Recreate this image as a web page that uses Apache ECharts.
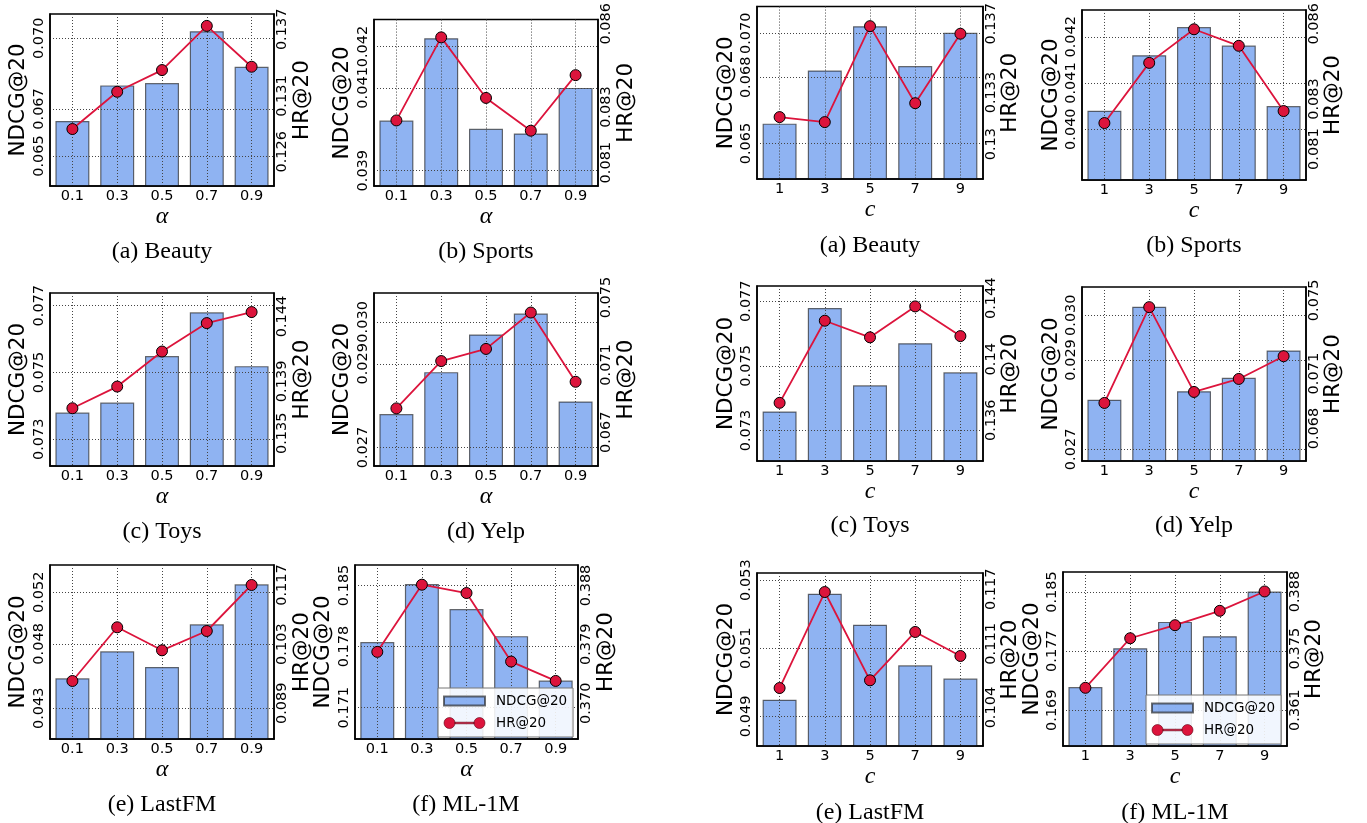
<!DOCTYPE html>
<html><head><meta charset="utf-8">
<script src="https://cdn.jsdelivr.net/npm/echarts@6/dist/echarts.min.js"></script>
<style>html,body{margin:0;padding:0;background:#fff}#c{width:1367px;height:823px}</style>
</head><body><div id="c"></div>
<script>
// ---------- categories ----------
const alphaCategories = ['0.1', '0.3', '0.5', '0.7', '0.9'];
const cCategories = ['1', '3', '5', '7', '9'];

// ---------- alpha sweep ----------
const beautyAlphaNdcg = [0.06649, 0.06800, 0.06810, 0.07030, 0.06879];
const beautyAlphaHr   = [0.12804, 0.13139, 0.13334, 0.13731, 0.13364];
const beautyAlphaNdcgTicks = ['0.065', '0.067', '0.070'];
const beautyAlphaHrTicks   = ['0.126', '0.131', '0.137'];

const sportsAlphaNdcg = [0.04021, 0.04220, 0.04001, 0.03990, 0.04100];
const sportsAlphaHr   = [0.08252, 0.08551, 0.08333, 0.08215, 0.08415];
const sportsAlphaNdcgTicks = ['0.039', '0.041', '0.042'];
const sportsAlphaHrTicks   = ['0.081', '0.083', '0.086'];

const toysAlphaNdcg = [0.07380, 0.07410, 0.07549, 0.07680, 0.07519];
const toysAlphaHr   = [0.13693, 0.13860, 0.14130, 0.14349, 0.14434];
const toysAlphaNdcgTicks = ['0.073', '0.075', '0.077'];
const toysAlphaHrTicks   = ['0.135', '0.139', '0.144'];

const yelpAlphaNdcg = [0.02780, 0.02880, 0.02970, 0.03020, 0.02810];
const yelpAlphaHr   = [0.06842, 0.07123, 0.07195, 0.07411, 0.07000];
const yelpAlphaNdcgTicks = ['0.027', '0.029', '0.030'];
const yelpAlphaHrTicks   = ['0.067', '0.071', '0.075'];

const lastfmAlphaNdcg = [0.04533, 0.04742, 0.04621, 0.04952, 0.05262];
const lastfmAlphaHr   = [0.09428, 0.10699, 0.10154, 0.10611, 0.11700];
const lastfmAlphaNdcgTicks = ['0.043', '0.048', '0.052'];
const lastfmAlphaHrTicks   = ['0.089', '0.103', '0.117'];

const ml1mAlphaNdcg = [0.17851, 0.18516, 0.18229, 0.17919, 0.17410];
const ml1mAlphaHr   = [0.37785, 0.38811, 0.38684, 0.37637, 0.37341];
const ml1mAlphaNdcgTicks = ['0.171', '0.178', '0.185'];
const ml1mAlphaHrTicks   = ['0.370', '0.379', '0.388'];

// ---------- c sweep ----------
const beautyCNdcg = [0.06590, 0.06831, 0.07032, 0.06851, 0.07002];
const beautyCHr   = [0.13157, 0.13128, 0.13686, 0.13238, 0.13642];
const beautyCNdcgTicks = ['0.065', '0.068', '0.070'];
const beautyCHrTicks   = ['0.13', '0.133', '0.137'];

const sportsCNdcg = [0.04040, 0.04160, 0.04221, 0.04181, 0.04050];
const sportsCHr   = [0.08204, 0.08444, 0.08578, 0.08512, 0.08252];
const sportsCNdcgTicks = ['0.040', '0.041', '0.042'];
const sportsCHrTicks   = ['0.081', '0.083', '0.086'];

const toysCNdcg = [0.07359, 0.07679, 0.07440, 0.07570, 0.07480];
const toysCHr   = [0.13714, 0.14253, 0.14144, 0.14347, 0.14152];
const toysCNdcgTicks = ['0.073', '0.075', '0.077'];
const toysCHrTicks   = ['0.136', '0.14', '0.144'];

const yelpCNdcg = [0.02811, 0.03019, 0.02830, 0.02860, 0.02921];
const yelpCHr   = [0.06940, 0.07463, 0.07000, 0.07071, 0.07195];
const yelpCNdcgTicks = ['0.027', '0.029', '0.030'];
const yelpCHrTicks   = ['0.068', '0.071', '0.075'];

const lastfmCNdcg = [0.04949, 0.05260, 0.05169, 0.05050, 0.05011];
const lastfmCHr   = [0.10615, 0.11670, 0.10700, 0.11231, 0.10967];
const lastfmCNdcgTicks = ['0.049', '0.051', '0.053'];
const lastfmCHrTicks   = ['0.104', '0.111', '0.117'];

const ml1mCNdcg = [0.17213, 0.17739, 0.18096, 0.17902, 0.18508];
const ml1mCHr   = [0.36609, 0.37736, 0.38033, 0.38360, 0.38800];
const ml1mCNdcgTicks = ['0.169', '0.177', '0.185'];
const ml1mCHrTicks   = ['0.361', '0.375', '0.388'];

// ---------- panel layout (positions / axis ranges) ----------
const panels = [
  {cats: alphaCategories, xName: 'α', ndcg: beautyAlphaNdcg, hr: beautyAlphaHr, lt: beautyAlphaNdcgTicks, rt: beautyAlphaHrTicks,
   lr: [0.06373, 0.07103], rr: [0.12292, 0.13838], box: [50, 14, 224, 172], caption: '(a) Beauty', cap: [162, 252], g: 'a'},
  {cats: alphaCategories, xName: 'α', ndcg: sportsAlphaNdcg, hr: sportsAlphaHr, lt: sportsAlphaNdcgTicks, rt: sportsAlphaHrTicks,
   lr: [0.03863, 0.04265], rr: [0.08016, 0.08615], box: [374, 14, 224, 172], caption: '(b) Sports', cap: [486, 252], g: 'a'},
  {cats: cCategories, xName: 'c', ndcg: beautyCNdcg, hr: beautyCHr, lt: beautyCNdcgTicks, rt: beautyCHrTicks,
   lr: [0.06339, 0.07121], rr: [0.12797, 0.13800], box: [757, 6, 226, 173], caption: '(a) Beauty', cap: [870, 246], g: 'c'},
  {cats: cCategories, xName: 'c', ndcg: sportsCNdcg, hr: sportsCHr, lt: sportsCNdcgTicks, rt: sportsCHrTicks,
   lr: [0.03890, 0.04258], rr: [0.07977, 0.08655], box: [1082, 6, 224, 174], caption: '(b) Sports', cap: [1194, 246], g: 'c'},

  {cats: alphaCategories, xName: 'α', ndcg: toysAlphaNdcg, hr: toysAlphaHr, lt: toysAlphaNdcgTicks, rt: toysAlphaHrTicks,
   lr: [0.07220, 0.07738], rr: [0.13248, 0.14581], box: [50, 293, 224, 173], caption: '(c) Toys', cap: [162, 532], g: 'a'},
  {cats: alphaCategories, xName: 'α', ndcg: yelpAlphaNdcg, hr: yelpAlphaHr, lt: yelpAlphaNdcgTicks, rt: yelpAlphaHrTicks,
   lr: [0.02656, 0.03069], rr: [0.06500, 0.07527], box: [374, 293, 224, 173], caption: '(d) Yelp', cap: [486, 532], g: 'a'},
  {cats: cCategories, xName: 'c', ndcg: toysCNdcg, hr: toysCHr, lt: toysCNdcgTicks, rt: toysCHrTicks,
   lr: [0.07206, 0.07747], rr: [0.13332, 0.14481], box: [757, 286, 226, 175], caption: '(c) Toys', cap: [870, 526], g: 'c'},
  {cats: cCategories, xName: 'c', ndcg: yelpCNdcg, hr: yelpCHr, lt: yelpCNdcgTicks, rt: yelpCHrTicks,
   lr: [0.02674, 0.03063], rr: [0.06623, 0.07573], box: [1082, 287, 224, 174], caption: '(d) Yelp', cap: [1194, 526], g: 'c'},

  {cats: alphaCategories, xName: 'α', ndcg: lastfmAlphaNdcg, hr: lastfmAlphaHr, lt: lastfmAlphaNdcgTicks, rt: lastfmAlphaHrTicks,
   lr: [0.04062, 0.05412], rr: [0.08055, 0.12173], box: [50, 565, 224, 174], caption: '(e) LastFM', cap: [162, 805], g: 'a'},
  {cats: alphaCategories, xName: 'α', ndcg: ml1mAlphaNdcg, hr: ml1mAlphaHr, lt: ml1mAlphaNdcgTicks, rt: ml1mAlphaHrTicks,
   lr: [0.16741, 0.18734], rr: [0.36454, 0.39112], box: [355, 565, 223, 174], caption: '(f) ML-1M', cap: [466, 805], g: 'a'},
  {cats: cCategories, xName: 'c', ndcg: lastfmCNdcg, hr: lastfmCHr, lt: lastfmCNdcgTicks, rt: lastfmCHrTicks,
   lr: [0.04813, 0.05321], rr: [0.09978, 0.11879], box: [757, 573, 226, 173], caption: '(e) LastFM', cap: [870, 813], g: 'c'},
  {cats: cCategories, xName: 'c', ndcg: ml1mCNdcg, hr: ml1mCHr, lt: ml1mCNdcgTicks, rt: ml1mCHrTicks,
   lr: [0.16415, 0.18772], rr: [0.35285, 0.39243], box: [1063, 572, 224, 174], caption: '(f) ML-1M', cap: [1175, 813], g: 'c'}
];

const SANS = 'DejaVu Sans';
const SERIF = 'Liberation Serif';
const BAR_FILL = 'rgba(100,149,237,0.72)';
const BAR_EDGE = 'rgba(30,30,30,0.65)';
const LINE_COLOR = '#dc143c';
const GRID_LINE = {color: '#444', type: [1, 2], width: 1};

function labelFmt(labels) {
  return function (v) {
    for (const l of labels) { if (Math.abs(Number(l) - v) < 1e-9) return l; }
    return '';
  };
}

const option = {animation: false, backgroundColor: '#fff', grid: [], xAxis: [], yAxis: [], series: [], title: [], legend: []};

panels.forEach((p, i) => {
  option.grid.push({left: p.box[0], top: p.box[1], width: p.box[2], height: p.box[3],
    show: true, borderColor: '#000', borderWidth: 1.5, backgroundColor: 'transparent', containLabel: false});
  option.xAxis.push({type: 'category', gridIndex: i, data: p.cats, boundaryGap: true, z: 3,
    name: p.xName, nameLocation: 'middle', nameGap: 17,
    nameTextStyle: {fontFamily: SERIF, fontStyle: 'italic', fontSize: 24, color: '#000'},
    axisLine: {show: true, lineStyle: {color: '#000', width: 1.5}}, axisTick: {show: false},
    axisLabel: {fontFamily: SANS, fontSize: 14.5, color: '#000', margin: 3},
    splitLine: {show: true, alignWithLabel: true, lineStyle: GRID_LINE}});
  const lv = p.lt.map(Number), rv = p.rt.map(Number);
  option.yAxis.push({type: 'value', gridIndex: i, position: 'left', min: p.lr[0], max: p.lr[1], z: 3,
    name: 'NDCG@20', nameLocation: 'middle', nameRotate: 90, nameGap: p.g === 'a' ? 21 : 20,
    nameTextStyle: {fontFamily: SANS, fontSize: 21.5, color: '#000'},
    axisLine: {show: true, lineStyle: {color: '#000', width: 1.5}},
    axisTick: {show: false, customValues: lv},
    axisLabel: {rotate: 90, customValues: lv, formatter: labelFmt(p.lt), fontFamily: SANS, fontSize: 14.5, color: '#000', margin: 3},
    splitLine: {show: true, lineStyle: GRID_LINE}});
  option.yAxis.push({type: 'value', gridIndex: i, position: 'right', min: p.rr[0], max: p.rr[1], z: 3,
    name: 'HR@20', nameLocation: 'middle', nameRotate: 90, nameGap: p.g === 'a' ? 17.5 : 14.5,
    nameTextStyle: {fontFamily: SANS, fontSize: 21.5, color: '#000'},
    axisLine: {show: true, lineStyle: {color: '#000', width: 1.5}},
    axisTick: {show: false, customValues: rv},
    axisLabel: {rotate: 90, customValues: rv, formatter: labelFmt(p.rt), fontFamily: SANS, fontSize: 14.5, color: '#000', margin: 1},
    splitLine: {show: false}});
  option.series.push({type: 'bar', name: 'NDCG@20', xAxisIndex: i, yAxisIndex: 2 * i, data: p.ndcg, barWidth: 34, z: 2,
    itemStyle: {color: BAR_FILL, borderColor: BAR_EDGE, borderWidth: 1.2}});
  option.series.push({type: 'line', name: 'HR@20', xAxisIndex: i, yAxisIndex: 2 * i + 1, data: p.hr, z: 10,
    symbol: 'circle', symbolSize: 11,
    lineStyle: {color: LINE_COLOR, width: 1.8},
    itemStyle: {color: LINE_COLOR, borderColor: '#000', borderWidth: 1}});
  option.title.push({text: p.caption, left: p.cap[0], top: p.cap[1] - 13, textAlign: 'center', padding: 0,
    textStyle: {fontFamily: SERIF, fontSize: 24, fontWeight: 'normal', color: '#000', lineHeight: 26}});
});

const barIcon = 'path://M0,0h41v9h-41z';
const hrIcon = 'path://M0,5.5a5.5,5.5 0 1,0 11,0a5.5,5.5 0 1,0 -11,0z M30,5.5a5.5,5.5 0 1,0 11,0a5.5,5.5 0 1,0 -11,0z M11,4.7h19v1.6h-19z';
function makeLegend(left, top) {
  return {show: true, orient: 'vertical', left: left, top: top, selectedMode: false,
    data: [{name: 'NDCG@20', icon: barIcon}, {name: 'HR@20', icon: hrIcon, itemStyle: {borderWidth: 0.6, borderColor: '#5a0010'}}],
    itemWidth: 41, itemHeight: 11, itemGap: 8, padding: [6, 6, 7, 5],
    backgroundColor: 'rgba(255,255,255,0.88)', borderColor: '#777', borderWidth: 1, z: 20,
    textStyle: {fontFamily: SANS, fontSize: 13.5, color: '#000', padding: [0, 0, 0, 6]}};
}
option.legend.push(makeLegend(438, 688));
option.legend.push(makeLegend(1146, 695));

const chart = echarts.init(document.getElementById('c'), null, {renderer: 'canvas', width: 1367, height: 823});
chart.setOption(option);
</script>
</body></html>
